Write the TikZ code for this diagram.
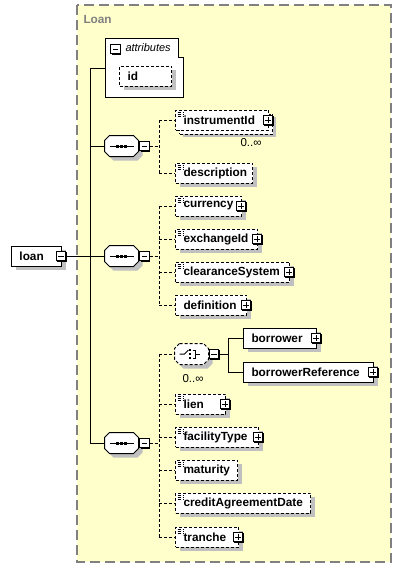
\documentclass[tikz,border=0pt]{standalone}
\usepackage{fontspec}
\setmainfont{Liberation Sans}
\usetikzlibrary{shadows}
\definecolor{loanbg}{RGB}{255,255,204}
\definecolor{framegray}{RGB}{128,128,128}
\definecolor{shadegray}{RGB}{192,192,192}

\begin{document}
\begin{tikzpicture}[x=1pt,y=-1pt,line width=1pt,
  font=\fontsize{11.8}{14}\selectfont\bfseries,
  shade/.style={drop shadow={shadow xshift=#1,shadow yshift=-#1,draw=none,fill=shadegray,opacity=1}},
  box/.style={draw,fill=white,anchor=west,minimum height=20pt,inner xsep=8pt,inner ysep=0pt,align=left},
  elem/.style={box,shade=4pt},
  opt/.style={dash pattern=on 3pt off 2pt},
  multi/.style={box,shade=7pt,general shadow={shadow xshift=4pt,shadow yshift=-4pt,draw,fill=white,opt}},
  typed/.style={path picture={\foreach \k in {2pt,4pt,6pt}
      \draw[line width=0.8pt] ([shift={(2pt,-\k)}]path picture bounding box.north west) -- ++(6pt,0pt);}},
  expand/.style={draw,fill=white,line width=0.8pt,minimum size=9.5pt,inner sep=0pt,
      drop shadow={shadow xshift=1pt,shadow yshift=-1pt,draw=none,fill=black,opacity=1}},
  minusbox/.style={expand,path picture={\draw[line width=0.8pt]
      ([xshift=2pt]path picture bounding box.west) -- ([xshift=-2pt]path picture bounding box.east);}},
  plusbox/.style={expand,path picture={\draw[line width=0.8pt]
      ([xshift=2pt]path picture bounding box.west) -- ([xshift=-2pt]path picture bounding box.east)
      ([yshift=-2pt]path picture bounding box.north) -- ([yshift=2pt]path picture bounding box.south);}},
  comp/.style={minimum width=33pt,minimum height=20pt,inner sep=0pt},
  card/.style={inner sep=0pt,font=\fontsize{11.5}{13}\selectfont\mdseries}]

\useasboundingbox (0,0) rectangle (402,568);
\fill[loanbg] (77,5) rectangle (391,562);
\draw[framegray,line width=1.5pt,dash pattern=on 10pt off 5pt] (77,5) rectangle (391,562);
\node[anchor=west,inner sep=0pt,text=framegray] (title) at (83,19) {Loan};

\draw[fill=white] (105,38) -- (178,38) -- (178,57) -- (183,57) -- (183,97) -- (105,97) -- cycle;
\coordinate (attr) at (105,68);
\node[minusbox] (attrm) at (115.5,49) {};
\node[anchor=west,inner sep=0pt,font=\fontsize{11}{13}\selectfont\itshape] (attrt) at (125,48) {attributes};
\node[elem,opt,text width=36pt] (id) at (119,76) {id};

\node[elem,text width=34pt] (loan) at (11,256) {loan};
\node[minusbox] (loanm) at (61,256) {};

\node[comp] (seqa) at (121.5,146) {};
\node[comp] (seqb) at (121.5,256) {};
\node[comp] (seqc) at (121.5,443) {};
\node[comp] (choice) at (191.5,354) {};

\foreach \c/\s in {seqa/solid,seqb/solid,seqc/solid,choice/opt}
  \draw[fill=white,shade=4pt,\s] ([xshift=5pt]\c.north west) -- ([xshift=-5pt]\c.north east)
    -- ([yshift=-5pt]\c.north east) -- ([yshift=5pt]\c.south east) -- ([xshift=-5pt]\c.south east)
    -- ([xshift=5pt]\c.south west) -- ([yshift=5pt]\c.south west) -- ([yshift=-5pt]\c.north west) -- cycle;
\foreach \c in {seqa,seqb,seqc}{
  \draw ([xshift=5pt]\c.west) -- ([xshift=-5pt]\c.east);
  \foreach \d in {-4pt,0pt,4pt}
    \fill ([shift={(\d-1.5pt,-1.5pt)}]\c.center) rectangle ++(3pt,3pt);
}
\draw ([xshift=-12pt]choice.center) -- ++(5pt,0pt) -- ++(4pt,4pt);
\foreach \d in {-4pt,0pt,4pt}
  \fill ([shift={(-2.5pt,\d-1pt)}]choice.center) rectangle ++(2pt,2pt);
\draw ([shift={(1pt,4pt)}]choice.center) -- ++(3pt,0pt) -- ++(0pt,-8pt) -- ++(-3pt,0pt)
  ([shift={(4pt,0pt)}]choice.center) -- ++(4pt,0pt);

\node[minusbox] (seqam) at (144.5,146) {};
\node[minusbox] (seqbm) at (144.5,256) {};
\node[minusbox] (seqcm) at (144.5,443) {};
\node[minusbox] (choicem) at (214,354) {};
\node[card] (choicec) at (193,379) {0..∞};

\coordinate (trunktop) at (90,68);
\coordinate (trunkbot) at (90,443);
\draw (trunktop) -- (trunkbot);
\draw (trunktop) -- (attr);
\draw (loanm.east) -- (seqb.west);
\draw (trunktop |- seqa.west) -- (seqa.west);
\draw (trunktop |- seqc.west) -- (seqc.west);

\node[multi,opt,typed,text width=77pt] (instrumentId) at (175,120) {instrumentId};
\node[plusbox] (instrumentIdp) at ([xshift=-1pt]instrumentId.east) {};
\node[card] (instrumentIdc) at (251,143) {0..∞};
\node[elem,opt,typed,text width=61pt] (description) at (175,173) {description};

\coordinate (busa) at (159,146);
\draw[opt] (seqam.east) -- (busa);
\draw[opt] (busa |- instrumentId.west) -- (busa |- description.west);
\foreach \n in {instrumentId,description}
  \draw[opt] (busa |- \n.west) -- (\n.west);

\node[elem,opt,typed,text width=50pt] (currency) at (175,206) {currency};
\node[plusbox] (currencyp) at ([xshift=-1pt]currency.east) {};
\node[elem,opt,typed,text width=66pt] (exchangeId) at (175,239) {exchangeId};
\node[plusbox] (exchangeIdp) at ([xshift=-1pt]exchangeId.east) {};
\node[elem,opt,typed,text width=98pt] (clearanceSystem) at (175,272) {clearanceSystem};
\node[plusbox] (clearanceSystemp) at ([xshift=-1pt]clearanceSystem.east) {};
\node[elem,opt,text width=55pt] (definition) at (175,305) {definition};
\node[plusbox] (definitionp) at ([xshift=-1pt]definition.east) {};

\coordinate (busb) at (159,256);
\draw[opt] (seqbm.east) -- (busb);
\draw[opt] (busb |- currency.west) -- (busb |- definition.west);
\foreach \n in {currency,exchangeId,clearanceSystem,definition}
  \draw[opt] (busb |- \n.west) -- (\n.west);

\node[elem,text width=57pt] (borrower) at (243,338) {borrower};
\node[plusbox] (borrowerp) at ([xshift=-1pt]borrower.east) {};
\node[elem,text width=114pt] (borrowerReference) at (243,372) {borrowerReference};
\node[plusbox] (borrowerReferencep) at ([xshift=-1pt]borrowerReference.east) {};

\coordinate (busd) at (228,354);
\draw (choicem.east) -- (busd);
\draw (busd |- borrower.west) -- (busd |- borrowerReference.west);
\foreach \n in {borrower,borrowerReference}
  \draw (busd |- \n.west) -- (\n.west);

\node[elem,opt,typed,text width=34pt] (lien) at (175,404) {lien};
\node[plusbox] (lienp) at ([xshift=-1pt]lien.east) {};
\node[elem,opt,typed,text width=67pt] (facilityType) at (175,437) {facilityType};
\node[plusbox] (facilityTypep) at ([xshift=-1pt]facilityType.east) {};
\node[elem,opt,typed,text width=46pt] (maturity) at (175,470) {maturity};
\node[elem,opt,typed,text width=119pt] (creditAgreementDate) at (175,503) {creditAgreementDate};
\node[elem,opt,typed,text width=47pt] (tranche) at (175,537) {tranche};
\node[plusbox] (tranchep) at ([xshift=-1pt]tranche.east) {};

\coordinate (busc) at (159,443);
\draw[opt] (seqcm.east) -- (busc);
\draw[opt] (busc |- choice.west) -- (busc |- tranche.west);
\foreach \n in {choice,lien,facilityType,maturity,creditAgreementDate,tranche}
  \draw[opt] (busc |- \n.west) -- (\n.west);
\end{tikzpicture}
\end{document}
